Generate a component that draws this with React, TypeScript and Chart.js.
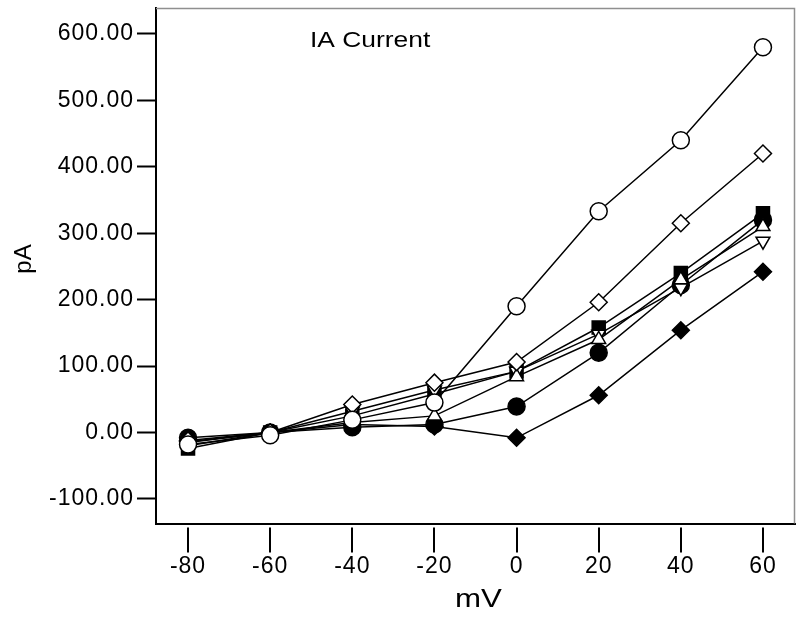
import React, { useEffect, useRef } from 'react';
import { Chart, registerables } from 'chart.js';

Chart.register(...registerables);

// ---- data ----
const VOLTAGES = [-80, -60, -40, -20, 0, 20, 40, 60];
const X_TICKS = [-80, -60, -40, -20, 0, 20, 40, 60];
const Y_TICKS = [-100, 0, 100, 200, 300, 400, 500, 600];

const openCircle = [-18, -4, 19, 45, 190, 333, 440, 580];
const openDiamond = [-12, 0, 42, 75, 106, 196, 315, 420];
const triangleUp = [-15, 0, 15, 25, 84, 140, 230, 310];
const triangleDown = [-20, 0, 32, 64, 92, 148, 218, 288];
const filledCircle = [-8, 0, 8, 12, 39, 120, 222, 320];
const filledSquare = [-24, 0, 25, 58, 92, 158, 240, 330];
const filledDiamond = [-14, 0, 12, 9, -8, 56, 154, 242];

const TITLE = 'IA Current';
const X_TITLE = 'mV';
const Y_TITLE = 'pA';

const FONT = "'Liberation Sans', Arial, sans-serif";

function pts(values: number[]) {
  return VOLTAGES.map((v, i) => ({ x: v, y: values[i] }));
}

function ds(values: number[], style: string, radius: number, fill: string, rotation = 0) {
  return {
    data: pts(values),
    borderColor: '#000',
    borderWidth: 1.5,
    pointStyle: style,
    pointRadius: radius,
    pointHoverRadius: radius,
    pointRotation: rotation,
    pointBackgroundColor: fill,
    pointBorderColor: '#000',
    pointBorderWidth: 1.5,
    tension: 0,
    fill: false,
  };
}

const decorPlugin = {
  id: 'decor',
  beforeDraw(chart: any) {
    const ctx = chart.ctx;
    ctx.save();
    ctx.fillStyle = '#fff';
    ctx.fillRect(0, 0, chart.width, chart.height);
    ctx.restore();
    ctx.letterSpacing = '1px';
  },
  afterDraw(chart: any) {
    const { ctx, chartArea } = chart;
    const xs = chart.scales.x;
    ctx.save();
    ctx.letterSpacing = '0px';
    // top & right frame (light grey)
    const t = Math.round(chartArea.top) + 0.5;
    const r = Math.round(chartArea.right) - 0.5;
    ctx.strokeStyle = '#8f8f8f';
    ctx.lineWidth = 1.5;
    ctx.beginPath();
    ctx.moveTo(chartArea.left, t);
    ctx.lineTo(r, t);
    ctx.lineTo(r, chartArea.bottom);
    ctx.stroke();
    // x tick marks (offset from axis)
    ctx.strokeStyle = '#000';
    ctx.lineWidth = 2;
    X_TICKS.forEach((v) => {
      const px = Math.round(xs.getPixelForValue(v));
      ctx.beginPath();
      ctx.moveTo(px, chartArea.bottom + 4);
      ctx.lineTo(px, chartArea.bottom + 29);
      ctx.stroke();
    });
    ctx.fillStyle = '#000';
    ctx.textBaseline = 'middle';
    // chart title
    ctx.save();
    ctx.font = `22px ${FONT}`;
    ctx.textAlign = 'left';
    ctx.translate(310, 41);
    ctx.scale(1.2, 1);
    ctx.fillText(TITLE, 0, 0);
    ctx.restore();
    // x title
    ctx.save();
    ctx.font = `25px ${FONT}`;
    ctx.textAlign = 'center';
    ctx.translate((chartArea.left + chartArea.right) / 2 + 3, 600);
    ctx.scale(1.25, 1);
    ctx.fillText(X_TITLE, 0, 0);
    ctx.restore();
    // y title
    ctx.save();
    ctx.font = `24px ${FONT}`;
    ctx.textAlign = 'center';
    ctx.translate(24, 259);
    ctx.rotate(-Math.PI / 2);
    ctx.fillText(Y_TITLE, 0, 0);
    ctx.restore();
    ctx.restore();
  },
};

export default function App() {
  const ref = useRef<HTMLCanvasElement>(null);
  useEffect(() => {
    const canvas = ref.current;
    if (!canvas) return;
    const chart = new Chart(canvas, {
      type: 'line',
      data: {
        datasets: [
          ds(openCircle, 'circle', 8.5, '#fff'),
          ds(openDiamond, 'rectRot', 8.5, '#fff'),
          ds(triangleUp, 'triangle', 8, '#fff'),
          ds(triangleDown, 'triangle', 8, '#fff', 180),
          ds(filledCircle, 'circle', 8.5, '#000'),
          ds(filledSquare, 'rect', 9.2, '#000'),
          ds(filledDiamond, 'rectRot', 8.5, '#000'),
        ] as any,
      },
      options: {
        responsive: false,
        animation: false,
        layout: { autoPadding: false, padding: { left: 0, right: 5, top: 8, bottom: 0 } },
        plugins: {
          legend: { display: false },
          tooltip: { enabled: false },
          title: { display: false },
        },
        scales: {
          x: {
            type: 'linear',
            min: -87.8,
            max: 67.8,
            afterBuildTicks: (s: any) => {
              s.ticks = X_TICKS.map((v) => ({ value: v }));
            },
            afterFit: (s: any) => {
              s.height = 93.5;
              s.paddingLeft = 0;
              s.paddingRight = 0;
            },
            grid: { display: false, drawTicks: false },
            border: { display: true, color: '#000', width: 2 },
            ticks: {
              color: '#000',
              font: { family: FONT, size: 23 },
              padding: 29,
              maxRotation: 0,
              autoSkip: false,
              callback: (v: any) => String(v),
            },
          },
          y: {
            type: 'linear',
            min: -137,
            max: 639,
            afterBuildTicks: (s: any) => {
              s.ticks = Y_TICKS.map((v) => ({ value: v }));
            },
            afterFit: (s: any) => {
              s.width = 156;
              s.paddingTop = 0;
              s.paddingBottom = 0;
            },
            grid: {
              display: true,
              drawOnChartArea: false,
              drawTicks: true,
              tickLength: 19,
              tickWidth: 2,
              tickColor: '#000',
            },
            border: { display: true, color: '#000', width: 2 },
            ticks: {
              color: '#000',
              font: { family: FONT, size: 23 },
              padding: 3,
              autoSkip: false,
              callback: (v: any) => Number(v).toFixed(2),
            },
          },
        },
      } as any,
      plugins: [decorPlugin],
    });
    return () => chart.destroy();
  }, []);
  return (
    <div style={{ position: 'absolute', left: 0, top: 0, width: 800, height: 617, background: '#fff' }}>
      <canvas ref={ref} width={800} height={617} style={{ display: 'block' }} />
    </div>
  );
}
